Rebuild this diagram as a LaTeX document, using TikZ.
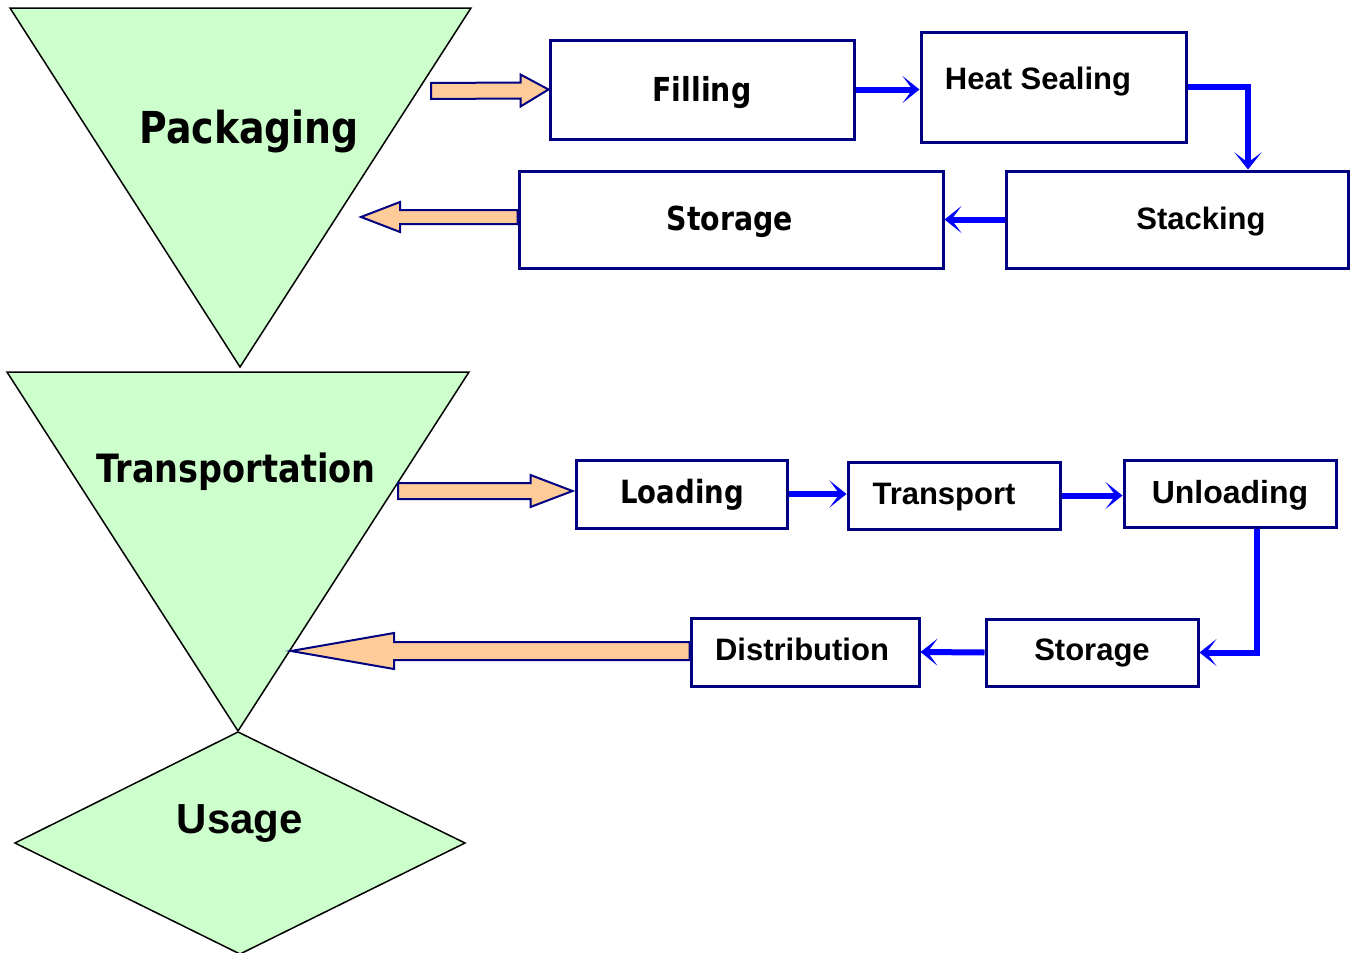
\documentclass[tikz,border=0pt]{standalone}
\usepackage{fontspec}
\setmainfont{Liberation Sans}
\newfontfamily\tahoma[FakeStretch=0.86]{DejaVu Sans}
\usetikzlibrary{arrows.meta,calc}

\definecolor{mint}{HTML}{CCFFCC}
\definecolor{peach}{HTML}{FFCC99}
\definecolor{boxnavy}{HTML}{000080}
\definecolor{flowblue}{HTML}{0000FF}

\tikzset{
  stage/.style={draw=black, line width=1.5pt, fill=mint, line join=miter},
  stepbox/.style={draw=boxnavy, line width=3pt, fill=white, inner sep=0pt, rectangle},
  flow/.style={draw=flowblue, line width=6pt,
    -{Stealth[length=17pt,width=27pt,inset=10pt]}},
  blockarrow/.style={draw=boxnavy, line width=2pt, fill=peach, line join=miter},
  bigtxt/.style={anchor=base, inner sep=0pt, font=\tahoma\bfseries\fontsize{44}{50}\selectfont},
  midtxt/.style={anchor=base, inner sep=0pt, font=\tahoma\bfseries\fontsize{39}{44}\selectfont},
  tahtxt/.style={anchor=base, inner sep=0pt, font=\tahoma\bfseries\fontsize{33}{38}\selectfont},
  ariatxt/.style={anchor=base, inner sep=0pt, font=\bfseries\fontsize{31}{36}\selectfont},
}

\begin{document}
\begin{tikzpicture}[x=1pt, y=-1pt]
\useasboundingbox (0,0) rectangle (1355,953);

% stage shapes on the left
\draw[stage] (10,8) -- (471,8) -- (240,367) -- cycle;
\draw[stage] (7,372) -- (469,372) -- (238,731) -- cycle;
\draw[stage] (238,732) -- (465,843) -- (240,954) -- (15,843) -- cycle;

\node[bigtxt] (packaging) at (249,143) {Packaging};
\node[midtxt] (transportation) at (236,482) {Transportation};
\node[ariatxt, font=\bfseries\fontsize{42}{46}\selectfont] (usage) at (240,833) {Usage};

% packaging steps
\node[stepbox, minimum width=304pt, minimum height=99pt] (fill) at (702,89.5) {};
\node[stepbox, minimum width=265pt, minimum height=110pt] (heat) at (1053.5,87) {};
\node[stepbox, minimum width=342pt, minimum height=97pt] (stack) at (1177,219.5) {};
\node[stepbox, minimum width=424pt, minimum height=97pt] (storU) at (731,219.5) {};

\node[tahtxt] (fillT) at (702,101) {Filling};
\node[ariatxt] (heatT) at (1038,89) {Heat Sealing};
\node[ariatxt] (stackT) at (1201,229) {Stacking};
\node[tahtxt] (storUT) at (730,230) {Storage};

% transportation steps
\node[stepbox, minimum width=211pt, minimum height=68pt] (load) at (681.5,494) {};
\node[stepbox, minimum width=212pt, minimum height=67pt] (trans) at (954,495.5) {};
\node[stepbox, minimum width=212pt, minimum height=67pt] (unl) at (1230,493.5) {};
\node[stepbox, minimum width=212pt, minimum height=67pt] (storL) at (1092,652.5) {};
\node[stepbox, minimum width=228pt, minimum height=68pt] (dist) at (805,652) {};

\node[tahtxt, font=\tahoma\bfseries\fontsize{32}{37}\selectfont] (loadT) at (682,503) {Loading};
\node[ariatxt] (transT) at (944,504) {Transport};
\node[ariatxt, font=\bfseries\fontsize{32}{37}\selectfont] (unlT) at (1230,503) {Unloading};
\node[ariatxt] (storLT) at (1092,660) {Storage};
\node[ariatxt] (distT) at (802,660) {Distribution};

% blue flow connectors
\draw[flow] (fill.east) -- (fill.east -| heat.west);
\draw[flow, line join=miter] (heat.east) -| ($(stack.north)+(71,0)$);
\draw[flow] (stack.west) -- (storU.east);
\draw[flow] (load.east) -- (load.east -| trans.west);
\draw[flow] (trans.east) -- (trans.east -| unl.west);
\draw[flow, line join=miter] ($(unl.south)+(27,0)$) |- (storL.east);
\draw[flow] (storL.west) -- (dist.east);

% block arrows between stages and steps
\coordinate (packIn) at (431,91);
\coordinate (packOut) at (361,217);
\coordinate (transIn) at (398,491);
\coordinate (transOut) at (291,651);

\draw[blockarrow] ($(packIn)+(0,-8)$) -- ($(fill.west)+(-28,-7)$) -- ($(fill.west)+(-28,-15)$)
  -- (fill.west) -- ($(fill.west)+(-28,17)$) -- ($(fill.west)+(-28,9)$) -- ($(packIn)+(0,8)$) -- cycle;
\draw[blockarrow] ($(storU.west)+(0,-9.5)$) -- ($(packOut)+(39,-7)$) -- ($(packOut)+(39,-15)$)
  -- (packOut) -- ($(packOut)+(39,15)$) -- ($(packOut)+(39,7)$) -- ($(storU.west)+(0,4.5)$) -- cycle;
\draw[blockarrow] ($(transIn)+(0,-8)$) -- ($(load.west)+(-44,-11)$) -- ($(load.west)+(-44,-19)$)
  -- ($(load.west)+(-2,-3)$) -- ($(load.west)+(-44,13)$) -- ($(load.west)+(-44,5)$) -- ($(transIn)+(0,8)$) -- cycle;
\draw[blockarrow] ($(dist.west)+(0,-10)$) -- ($(transOut)+(103,-9)$) -- ($(transOut)+(103,-18)$)
  -- (transOut) -- ($(transOut)+(103,18)$) -- ($(transOut)+(103,9)$) -- ($(dist.west)+(0,8)$) -- cycle;
\end{tikzpicture}
\end{document}
